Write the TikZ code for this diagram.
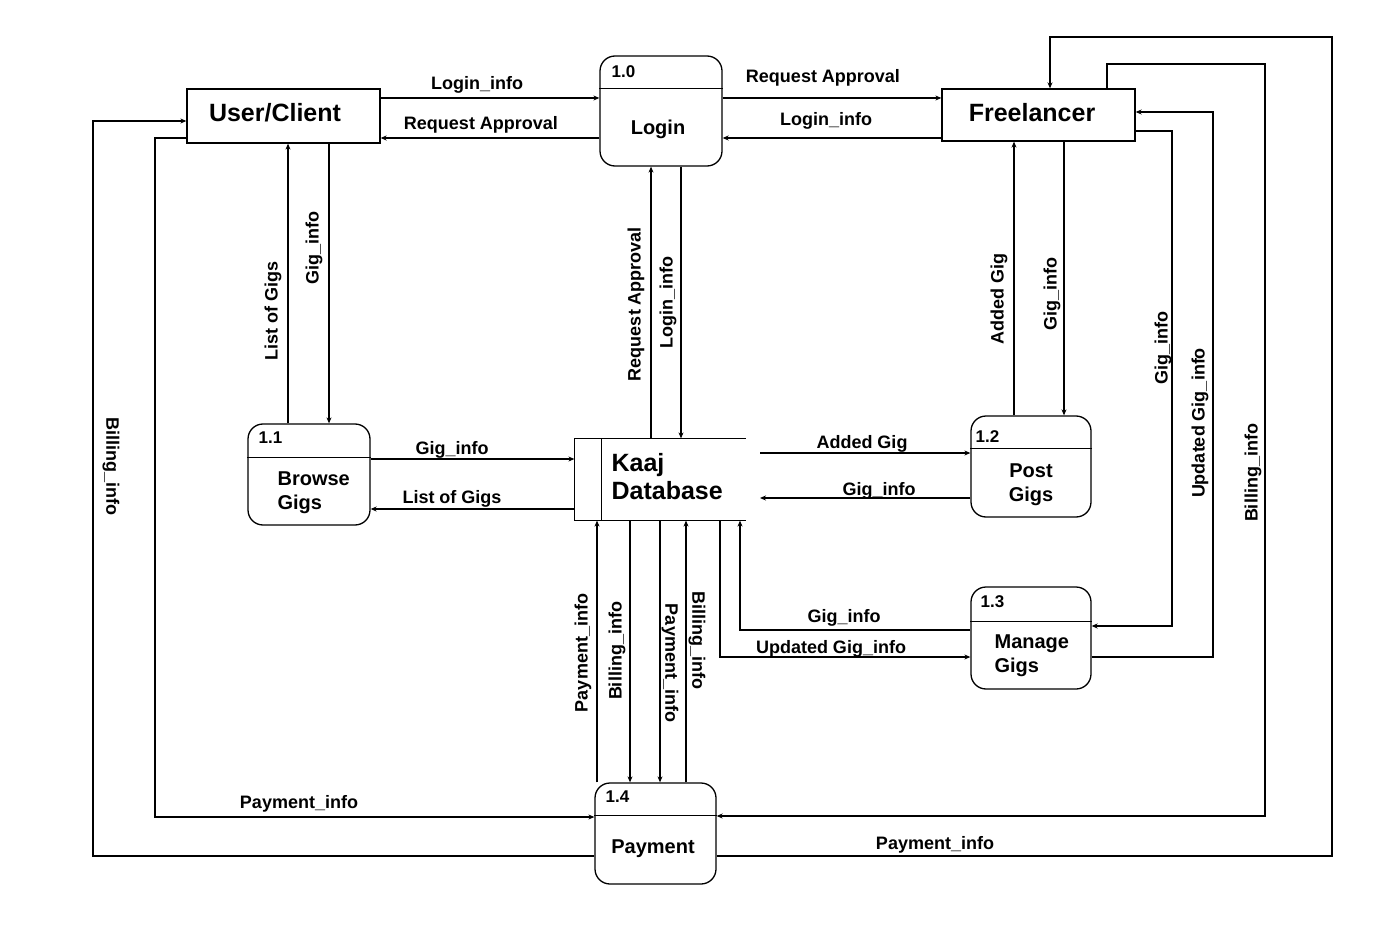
\documentclass[tikz,border=0pt]{standalone}
\usepackage{fontspec}
\setmainfont{Liberation Sans}
\usetikzlibrary{arrows.meta,calc}

\begin{document}
\begin{tikzpicture}[x=1pt,y=-1pt,
  line width=1.2pt,
  flow/.style={draw, -{Stealth[length=6pt,width=5pt]}},
  lbl/.style={font=\bfseries\fontsize{18}{21}\selectfont, inner sep=0pt},
  hlbl/.style={lbl, yshift=-2pt},
  entbox/.style={draw, rectangle, line width=1.3pt, inner sep=0pt},
  enttext/.style={font=\bfseries\fontsize{25}{29}\selectfont, inner sep=0pt, yshift=-1pt},
  procbox/.style={draw, rectangle, rounded corners=15pt, line width=1.3pt, inner sep=0pt},
  procnum/.style={font=\bfseries\fontsize{17}{20}\selectfont, inner sep=0pt, anchor=west},
  proctext/.style={font=\bfseries\fontsize{20}{24}\selectfont, inner sep=0pt, yshift=-2.5pt},
]
\useasboundingbox (0,0) rectangle (1390,944);

% external entities
\node[entbox, minimum width=193pt, minimum height=54pt] (user) at (283.5,116) {};
\node[enttext] (usert) at (275,112) {User/Client};
\node[entbox, minimum width=193pt, minimum height=52pt] (free) at (1038.5,115) {};
\node[enttext] (freet) at (1032,112) {Freelancer};

% processes: rounded box with a header line
\node[procbox, minimum width=122pt, minimum height=110pt] (login) at (661,111) {};
\draw[line width=1.3pt] ($(login.north west)+(0,33)$) -- ($(login.north east)+(0,33)$);
\node[procnum] (loginn) at (611,72) {1.0};
\node[proctext] (logint) at (658,127) {Login};

\node[procbox, minimum width=122pt, minimum height=101pt] (browse) at (309,474.5) {};
\draw[line width=1.3pt] ($(browse.north west)+(0,34)$) -- ($(browse.north east)+(0,34)$);
\node[procnum] (browsen) at (258,438) {1.1};
\node[proctext, anchor=west, align=left] (browset) at (277,490) {Browse\\Gigs};

\node[procbox, minimum width=120pt, minimum height=101pt] (post) at (1031,466.5) {};
\draw[line width=1.3pt] ($(post.north west)+(0,33)$) -- ($(post.north east)+(0,33)$);
\node[procnum] (postn) at (975,437) {1.2};
\node[proctext, align=center] (postt) at (1031,482) {Post\\Gigs};

\node[procbox, minimum width=120pt, minimum height=102pt] (manage) at (1031,638) {};
\draw[line width=1.3pt] ($(manage.north west)+(0,35)$) -- ($(manage.north east)+(0,35)$);
\node[procnum] (managen) at (980,602) {1.3};
\node[proctext, anchor=west, align=left] (managet) at (994,653) {Manage\\Gigs};

\node[procbox, minimum width=121pt, minimum height=101pt] (pay) at (655.5,833.5) {};
\draw[line width=1.3pt] ($(pay.north west)+(0,33)$) -- ($(pay.north east)+(0,33)$);
\node[procnum] (payn) at (605,797) {1.4};
\node[proctext] (payt) at (653,846) {Payment};

% data store: open-ended box
\node[minimum width=170pt, minimum height=81pt, inner sep=0pt] (db) at (660,479.5) {};
\draw[line width=1.3pt] (db.north east) -- (db.north west) -- (db.south west) -- (db.south east);
\draw[line width=1.3pt] ($(db.north west)+(27,0)$) -- ($(db.south west)+(27,0)$);
\node[font=\bfseries\fontsize{25}{28}\selectfont, inner sep=0pt, anchor=west, align=left] (dbt) at (611,477) {Kaaj\\Database};
\coordinate (dbr) at (760,479.5);

% User/Client <-> Login
\draw[flow] (user.east |- 0,98) -- (login.west |- 0,98);
\draw[flow] (login.west |- 0,138) -- (user.east |- 0,138);
\node[hlbl] (l1) at (477,83) {Login\_info};
\node[hlbl] (l2) at (481,123) {Request Approval};

% Login <-> Freelancer
\draw[flow] (login.east |- 0,98) -- (free.west |- 0,98);
\draw[flow] (free.west |- 0,138) -- (login.east |- 0,138);
\node[hlbl] (l3) at (823,76) {Request Approval};
\node[hlbl] (l4) at (826,119) {Login\_info};

% Login <-> database
\draw[flow] (db.north -| 651,0) -- (login.south -| 651,0);
\draw[flow] (login.south -| 681,0) -- (db.north -| 681,0);
\node[lbl, rotate=90] (l5) at (636,304) {Request Approval};
\node[lbl, rotate=90] (l6) at (668,303) {Login\_info};

% User/Client <-> Browse Gigs
\draw[flow] (browse.north -| 288,0) -- (user.south -| 288,0);
\draw[flow] (user.south -| 329,0) -- (browse.north -| 329,0);
\node[lbl, rotate=90] (l7) at (273,311) {List of Gigs};
\node[lbl, rotate=90] (l8) at (314,248) {Gig\_info};

% Browse Gigs <-> database
\draw[flow] (browse.east |- 0,459) -- (db.west |- 0,459);
\draw[flow] (db.west |- 0,509) -- (browse.east |- 0,509);
\node[hlbl] (l9) at (452,448) {Gig\_info};
\node[hlbl] (l10) at (452,497) {List of Gigs};

% database <-> Post Gigs
\draw[flow] (dbr |- 0,453) -- (post.west |- 0,453);
\draw[flow] (post.west |- 0,498) -- (dbr |- 0,498);
\node[hlbl] (l11) at (862,442) {Added Gig};
\node[hlbl] (l12) at (879,489) {Gig\_info};

% Freelancer <-> Post Gigs
\draw[flow] (post.north -| 1014,0) -- (free.south -| 1014,0);
\draw[flow] (free.south -| 1064,0) -- (post.north -| 1064,0);
\node[lbl, rotate=90] (l13) at (999,299) {Added Gig};
\node[lbl, rotate=90] (l14) at (1052,294) {Gig\_info};

% Freelancer <-> Manage Gigs
\draw[flow] (free.east |- 0,131) -- (1172,131) -- (1172,626) -- (manage.east |- 0,626);
\draw[flow] (manage.east |- 0,657) -- (1213,657) -- (1213,112) -- (free.east |- 0,112);
\node[lbl, rotate=90] (l15) at (1163,348) {Gig\_info};
\node[lbl, rotate=90] (l16) at (1200,423) {Updated Gig\_info};

% Manage Gigs <-> database
\draw[flow] (manage.west |- 0,630) -- (740,630) -- (db.south -| 740,0);
\draw[flow] (db.south -| 720,0) -- (720,657) -- (manage.west |- 0,657);
\node[hlbl] (l17) at (844,616) {Gig\_info};
\node[hlbl] (l18) at (831,647) {Updated Gig\_info};

% database <-> Payment
\draw[flow] (pay.north -| 597,0) -- (db.south -| 597,0);
\draw[flow] (db.south -| 630,0) -- (pay.north -| 630,0);
\draw[flow] (db.south -| 660,0) -- (pay.north -| 660,0);
\draw[flow] (pay.north -| 686,0) -- (db.south -| 686,0);
\node[lbl, rotate=90] (l19) at (583,653) {Payment\_info};
\node[lbl, rotate=90] (l20) at (617,651) {Billing\_info};
\node[lbl, rotate=-90] (l21) at (670,663) {Payment\_info};
\node[lbl, rotate=-90] (l22) at (697,640) {Billing\_info};

% User/Client <-> Payment
\draw[flow] (user.west |- 0,138) -- (155,138) -- (155,817) -- (pay.west |- 0,817);
\draw[flow] (pay.west |- 0,856) -- (93,856) -- (93,121) -- (user.west |- 0,121);
\node[hlbl] (l23) at (299,802) {Payment\_info};
\node[lbl, rotate=-90] (l24) at (111,466) {Billing\_info};

% Freelancer <-> Payment
\draw[flow] (free.north -| 1107,0) -- (1107,64) -- (1265,64) -- (1265,816) -- (pay.east |- 0,816);
\draw[flow] (pay.east |- 0,856) -- (1332,856) -- (1332,37) -- (1050,37) -- (free.north -| 1050,0);
\node[lbl, rotate=90] (l25) at (1253,473) {Billing\_info};
\node[hlbl] (l26) at (935,843) {Payment\_info};
\end{tikzpicture}
\end{document}
